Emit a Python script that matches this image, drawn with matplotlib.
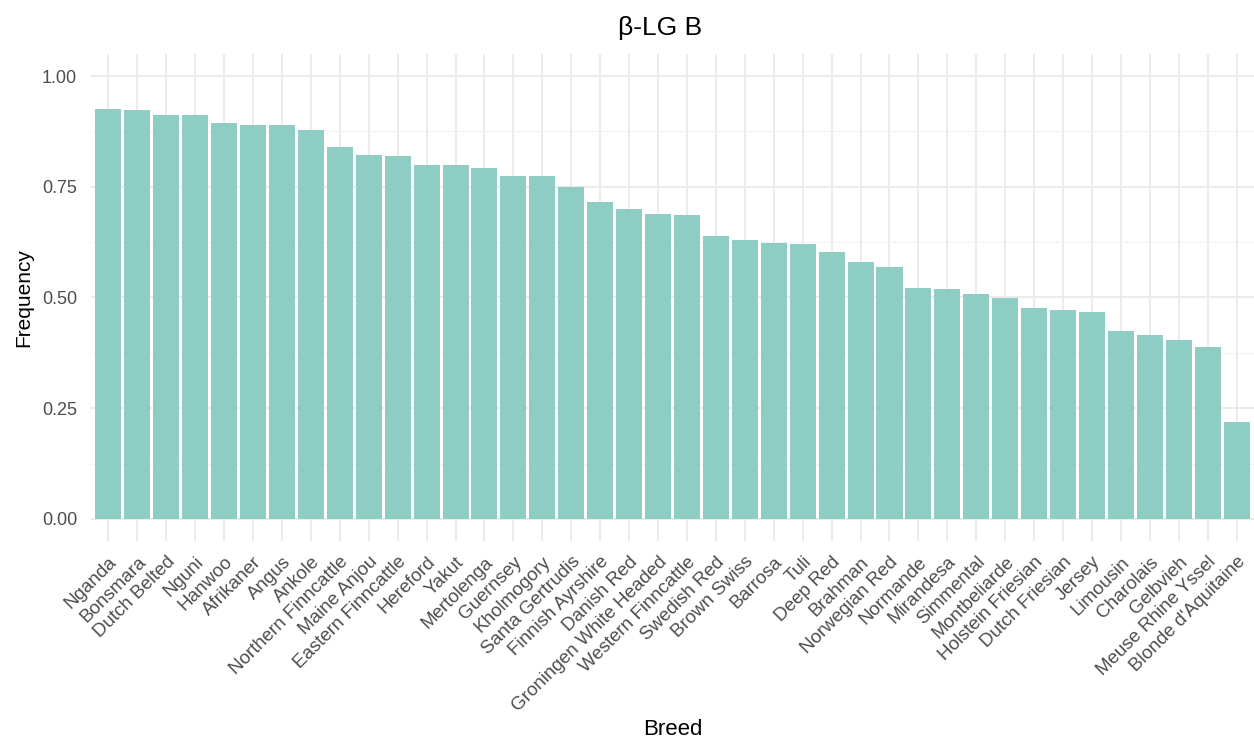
import matplotlib
matplotlib.use("Agg")
import matplotlib.pyplot as plt
import numpy as np

breeds = ["Nganda", "Bonsmara", "Dutch Belted", "Nguni", "Hanwoo", "Afrikaner", "Angus",
          "Ankole", "Northern Finncattle", "Maine Anjou", "Eastern Finncattle", "Hereford",
          "Yakut", "Mertolenga", "Guernsey", "Kholmogory", "Santa Gertrudis",
          "Finnish Ayrshire", "Danish Red", "Groningen White Headed", "Western Finncattle",
          "Swedish Red", "Brown Swiss", "Barrosa", "Tuli", "Deep Red", "Brahman",
          "Norwegian Red", "Normande", "Mirandesa", "Simmental", "Montbeliarde",
          "Holstein Friesian", "Dutch Friesian", "Jersey", "Limousin", "Charolais",
          "Gelbvieh", "Meuse Rhine Yssel", "Blonde d'Aquitaine"]
frequency = [0.925, 0.924, 0.913, 0.913, 0.895, 0.890, 0.889, 0.879, 0.840, 0.821,
             0.820, 0.800, 0.799, 0.793, 0.775, 0.775, 0.750, 0.716, 0.700, 0.689,
             0.686, 0.638, 0.630, 0.624, 0.621, 0.603, 0.580, 0.570, 0.521, 0.519,
             0.509, 0.499, 0.477, 0.472, 0.468, 0.424, 0.415, 0.404, 0.388, 0.218]
y_ticks = [0.0, 0.25, 0.5, 0.75, 1.0]
y_ticklabels = ["0.00", "0.25", "0.50", "0.75", "1.00"]

plt.rcParams['font.family'] = ['Liberation Sans', 'DejaVu Sans']

fig = plt.figure(figsize=(12.54, 7.47), dpi=100)
ax = fig.add_axes([0.0726, 0.2758, 0.9274, 0.6519])

x = np.arange(len(breeds))
ax.bar(x, frequency, width=0.9, color="#8DCDC4", zorder=2)

ax.set_xlim(-0.6, len(breeds) - 0.4)
ax.set_ylim(-0.05, 1.05)
ax.set_yticks(y_ticks)
ax.set_yticklabels(y_ticklabels)
ax.set_yticks([0.125, 0.375, 0.625, 0.875], minor=True)
ax.set_xticks(x)
ax.set_xticklabels(breeds, rotation=45, ha="right", va="top", rotation_mode="anchor")

ax.grid(True, which="major", color="#EBEBEB", linewidth=1.4, zorder=0)
ax.grid(True, which="minor", axis="y", color="#F2F2F2", linewidth=0.8, zorder=0)
ax.set_axisbelow(True)
for s in ax.spines.values():
    s.set_visible(False)
ax.tick_params(axis="both", which="both", length=0, labelcolor="#4D4D4D")
ax.tick_params(axis="x", labelsize=13.5, pad=9)
ax.tick_params(axis="y", labelsize=13, pad=10)

ax.set_title("β-LG B", fontsize=19, pad=14, x=0.489)
ax.set_ylabel("Frequency", fontsize=15, labelpad=6)
ax.set_xlabel("Breed", fontsize=16, labelpad=3)

fig.savefig("out.png", dpi=100, facecolor="white")
